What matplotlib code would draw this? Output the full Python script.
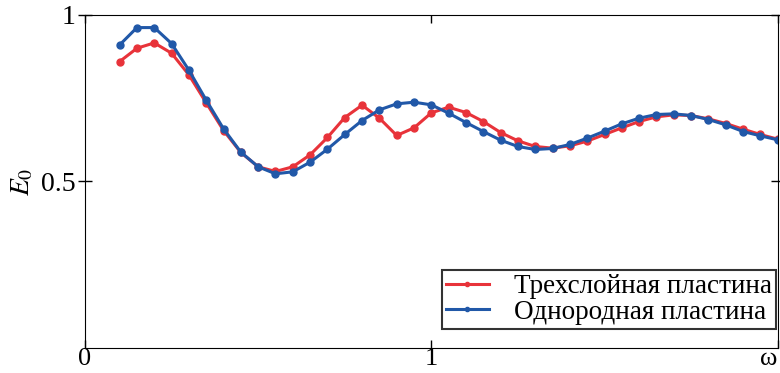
import numpy as np
import matplotlib.pyplot as plt

plt.rcParams['font.family'] = ['Liberation Serif', 'DejaVu Serif']
plt.rcParams['mathtext.fontset'] = 'stix'

omega = np.round(np.arange(0.1, 2.0001, 0.05), 2)

# трехслойная пластина (red)
e_three = [0.860, 0.900, 0.916, 0.885, 0.820, 0.736, 0.653, 0.587, 0.544, 0.530,
           0.544, 0.580, 0.632, 0.692, 0.729, 0.690, 0.638, 0.661, 0.706, 0.723,
           0.707, 0.680, 0.647, 0.622, 0.605, 0.600, 0.607, 0.621, 0.641, 0.661,
           0.680, 0.694, 0.700, 0.698, 0.688, 0.674, 0.657, 0.641, 0.627]

# однородная пластина (blue)
e_homo = [0.910, 0.962, 0.962, 0.914, 0.834, 0.744, 0.658, 0.588, 0.544, 0.523,
          0.529, 0.558, 0.597, 0.641, 0.683, 0.715, 0.733, 0.738, 0.730, 0.705,
          0.677, 0.650, 0.624, 0.605, 0.596, 0.599, 0.611, 0.630, 0.651, 0.673,
          0.690, 0.701, 0.703, 0.698, 0.686, 0.670, 0.650, 0.637, 0.625]

labels = ['Трехслойная пластина', 'Однородная пластина']

fig = plt.figure(figsize=(7.8, 3.73), dpi=100)
ax = fig.add_axes([0.109, 0.067, 0.888, 0.893])

ax.plot(omega, e_three, '-o', color='#e8333a', lw=2.2, ms=5, label=labels[0])
ax.plot(omega, e_homo, '-o', color='#2158a8', lw=2.2, ms=5, label=labels[1])

ax.set_xlim(0, 2)
ax.set_ylim(0, 1)
ax.set_xticks([0, 1, 2])
ax.set_xticklabels(['0', '1', 'ω'])
ax.get_xticklabels()[-1].set_horizontalalignment('right')
ax.set_yticks([0.5, 1])
ax.set_yticklabels(['0.5', '1'])
ax.tick_params(direction='in', top=True, right=True, labelsize=20, length=6,
               width=1, pad=2)
ax.tick_params(axis='x', labelsize=19, pad=0)
ax.tick_params(axis='y', direction='inout', length=10)
ax.set_ylabel('$E_0$', fontsize=20, labelpad=4)

leg = ax.legend(loc='lower right', bbox_to_anchor=(0.997, 0.057),
                fontsize=19.5, frameon=True, fancybox=False,
                edgecolor='black', handlelength=1.6, borderpad=0.15,
                labelspacing=0.02, handletextpad=0.9, borderaxespad=0,
                markerscale=0.6)
leg.get_frame().set_linewidth(1.5)

fig.savefig('out.png', dpi=100)
